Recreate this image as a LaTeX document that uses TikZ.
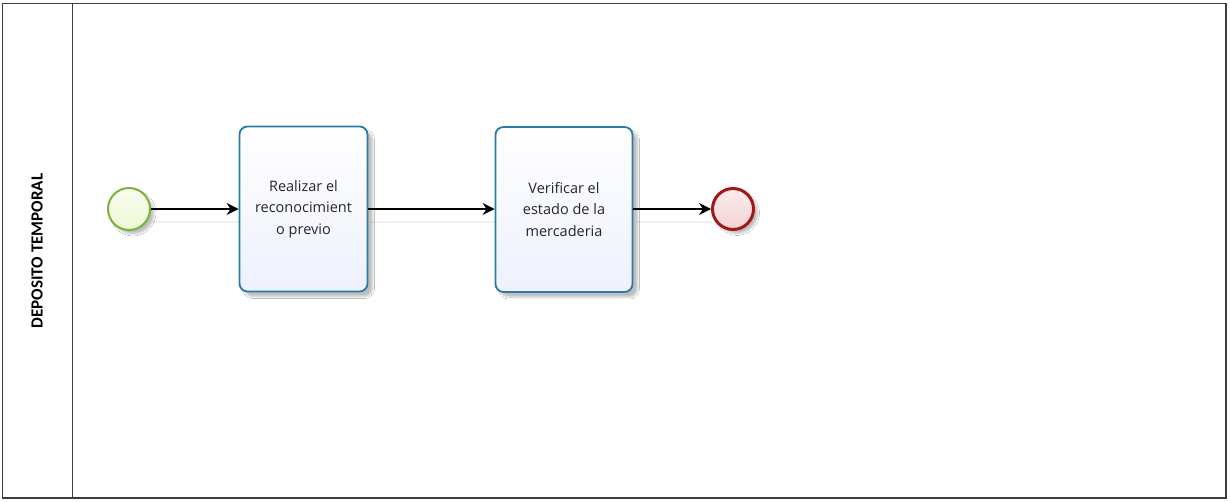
\documentclass[tikz,border=0pt]{standalone}
\usepackage{fontspec}
\setmainfont{Carlito}
\newfontfamily\taskfont{Open Sans}
\usetikzlibrary{arrows.meta,shadows.blur}
\definecolor{taskline}{HTML}{2B7AA6}
\definecolor{taskfill}{HTML}{EEF1FC}
\definecolor{startline}{HTML}{78B43C}
\definecolor{startfill}{HTML}{EEF8D6}
\definecolor{endline}{HTML}{A01818}
\definecolor{endfill}{HTML}{F4D2D4}
\definecolor{poolline}{HTML}{3C3C3C}
\tikzset{
  pool/.style={draw=poolline, line width=1.3pt},
  taskbox/.style={draw=taskline, line width=1.8pt, rounded corners=8pt,
    top color=white, bottom color=taskfill, minimum width=128pt, minimum height=165pt,
    align=center, font=\taskfont\fontsize{14.5}{21.5}\selectfont, text=black!85,
    blur shadow={shadow xshift=5pt, shadow yshift=-5pt, shadow opacity=25, shadow blur steps=6}},
  startev/.style={circle, draw=startline, line width=2pt, minimum size=42pt, inner sep=0pt,
    top color=startfill!40, bottom color=startfill,
    blur shadow={shadow xshift=4pt, shadow yshift=-4pt, shadow opacity=25, shadow blur steps=6}},
  endev/.style={circle, draw=endline, line width=3pt, minimum size=41pt, inner sep=0pt,
    top color=endfill!40, bottom color=endfill,
    blur shadow={shadow xshift=4pt, shadow yshift=-4pt, shadow opacity=25, shadow blur steps=6}},
  flow/.style={draw=black, line width=1.2pt, -{Stealth[length=12pt,width=12pt]}},
  flowshade/.style={draw=black!6, line width=2pt},
  lanelabel/.style={rotate=90, font=\fontsize{17}{20}\selectfont\bfseries}
}
\begin{document}
\begin{tikzpicture}[x=1pt,y=-1pt]
  \useasboundingbox[fill=white] (0,0) rectangle (1230,501);
  % pool and lane header
  \draw[pool] (2.5,3.5) rectangle (1226,498);
  \draw[pool] (72.5,3.5) -- (72.5,498);
  \node[lanelabel] (lane) at (37,251) {DEPOSITO TEMPORAL};
  % faint flow shadows
  \coordinate (s1a) at (152,222); \coordinate (s1b) at (240,222);
  \coordinate (s2a) at (370,222); \coordinate (s2b) at (496,222);
  \coordinate (s3a) at (636,222); \coordinate (s3b) at (712,222);
  \draw[flowshade] (s1a) -- (s1b);
  \draw[flowshade] (s2a) -- (s2b);
  \draw[flowshade] (s3a) -- (s3b);
  % events and tasks
  \node[startev] (start) at (129,209) {};
  \node[taskbox] (t1) at (303.5,209) {Realizar el\\reconocimient\\o previo};
  \node[taskbox, minimum width=137pt] (t2) at (564,209.5) {Verificar el\\estado de la\\mercaderia};
  \node[endev] (end) at (733,209) {};
  % sequence flows
  \draw[flow] (start) -- (t1);
  \draw[flow] (t1) -- (t2.west |- t1.east);
  \draw[flow] (t2.east |- end.west) -- (end);
\end{tikzpicture}
\end{document}
